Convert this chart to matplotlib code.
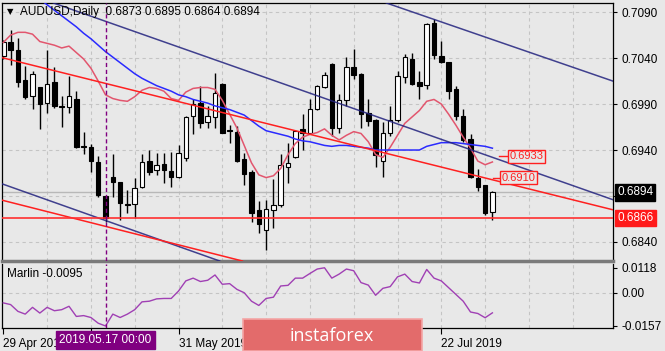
import matplotlib
matplotlib.use("Agg")
import matplotlib.pyplot as plt
from matplotlib.patches import Rectangle

# AUDUSD daily bars, 29 Apr 2019 .. 31 Jul 2019 (bar index 0..67)
opens = [0.7042, 0.7057, 0.7049, 0.7016, 0.6999, 0.7008, 0.6991, 0.7014, 0.6988, 0.6987,
         0.6996, 0.6944, 0.6943, 0.6927, 0.6890, 0.6911, 0.6905, 0.6881, 0.6881, 0.6900,
         0.6928, 0.6918, 0.6925, 0.6917, 0.6911, 0.6931, 0.6977, 0.6991, 0.6970, 0.6976,
         0.7012, 0.6962, 0.6960, 0.6930, 0.6916, 0.6875, 0.6853, 0.6875, 0.6880, 0.6922,
         0.6932, 0.6963, 0.6959, 0.6985, 0.7008, 0.7034, 0.6964, 0.6994, 0.7030, 0.7023,
         0.6980, 0.6973, 0.6928, 0.6959, 0.6973, 0.7019, 0.7039, 0.7014, 0.7011, 0.7078,
         0.7042, 0.7036, 0.7006, 0.6977, 0.6952, 0.6910, 0.6902, 0.6873]
highs = [0.7060, 0.7070, 0.7062, 0.7031, 0.7026, 0.7008, 0.7049, 0.7030, 0.6999, 0.7020,
         0.7004, 0.6960, 0.6947, 0.6934, 0.6890, 0.6936, 0.6905, 0.6897, 0.6910, 0.6936,
         0.6940, 0.6937, 0.6937, 0.6938, 0.6945, 0.6977, 0.6995, 0.7010, 0.6988, 0.7024,
         0.7013, 0.6967, 0.6966, 0.6937, 0.6918, 0.6885, 0.6886, 0.6908, 0.6936, 0.6948,
         0.6962, 0.6979, 0.6995, 0.7011, 0.7025, 0.7035, 0.7001, 0.7041, 0.7050, 0.7024,
         0.6995, 0.6974, 0.6971, 0.6988, 0.7026, 0.7044, 0.7046, 0.7026, 0.7078, 0.7083,
         0.7059, 0.7036, 0.7010, 0.6985, 0.6957, 0.6919, 0.6902, 0.6895]
lows = [0.7039, 0.7033, 0.7008, 0.6995, 0.6985, 0.6963, 0.6980, 0.6986, 0.6965, 0.6980,
        0.6942, 0.6936, 0.6916, 0.6889, 0.6862, 0.6889, 0.6864, 0.6872, 0.6866, 0.6899,
        0.6913, 0.6913, 0.6904, 0.6900, 0.6910, 0.6928, 0.6957, 0.6964, 0.6964, 0.6964,
        0.6958, 0.6948, 0.6927, 0.6902, 0.6862, 0.6850, 0.6831, 0.6855, 0.6878, 0.6904,
        0.6931, 0.6940, 0.6958, 0.6984, 0.7007, 0.6955, 0.6958, 0.6988, 0.7017, 0.6964,
        0.6966, 0.6922, 0.6911, 0.6955, 0.6971, 0.7013, 0.7011, 0.6996, 0.7006, 0.7039,
        0.7035, 0.6996, 0.6973, 0.6949, 0.6910, 0.6895, 0.6869, 0.6864]
closes = [0.7057, 0.7049, 0.7014, 0.6998, 0.7023, 0.6990, 0.7012, 0.6988, 0.6987, 0.6999,
          0.6943, 0.6943, 0.6928, 0.6891, 0.6866, 0.6905, 0.6882, 0.6880, 0.6899, 0.6927,
          0.6916, 0.6924, 0.6918, 0.6911, 0.6937, 0.6976, 0.6990, 0.6969, 0.6977, 0.7002,
          0.6959, 0.6961, 0.6928, 0.6914, 0.6871, 0.6859, 0.6876, 0.6880, 0.6924, 0.6926,
          0.6961, 0.6959, 0.6985, 0.7010, 0.7022, 0.6964, 0.6994, 0.7030, 0.7022, 0.6979,
          0.6972, 0.6935, 0.6959, 0.6973, 0.7020, 0.7041, 0.7012, 0.7010, 0.7077, 0.7043,
          0.7036, 0.7004, 0.6977, 0.6951, 0.6911, 0.6900, 0.6871, 0.6894]

# balance line (red) and Kruzenshtern line (blue)
balance = [0.7057, 0.7065, 0.7068, 0.7068, 0.7066, 0.7058, 0.7056, 0.7054, 0.7051, 0.7053,
           0.7046, 0.7039, 0.7029, 0.7015, 0.7000, 0.6996, 0.6994, 0.6993, 0.6998, 0.7005,
           0.7008, 0.7007, 0.7004, 0.6996, 0.6994, 0.7003, 0.7007, 0.7008, 0.7008, 0.7006,
           0.6994, 0.6979, 0.6964, 0.6945, 0.6926, 0.6913, 0.6910, 0.6912, 0.6920, 0.6935,
           0.6947, 0.6954, 0.6957, 0.6959, 0.6963, 0.6956, 0.6951, 0.6956, 0.6960, 0.6958,
           0.6949, 0.6935, 0.6932, 0.6943, 0.6956, 0.6969, 0.6976, 0.6983, 0.6993, 0.6995,
           0.6990, 0.6979, 0.6967, 0.6954, 0.6942, 0.6928, 0.6924, 0.6927]
kruz_start = 3
kruz = [0.7121, 0.7112, 0.7104, 0.7098, 0.7092, 0.7086, 0.7080, 0.7074, 0.7067, 0.7061,
        0.7054, 0.7047, 0.7041, 0.7035, 0.7029, 0.7023, 0.7018, 0.7014, 0.7010, 0.7007,
        0.7004, 0.7000, 0.6998, 0.6995, 0.6993, 0.6991, 0.6988, 0.6986, 0.6984, 0.6981,
        0.6978, 0.6972, 0.6966, 0.6961, 0.6959, 0.6957, 0.6955, 0.6952, 0.6950, 0.6949,
        0.6947, 0.6945, 0.6944, 0.6945, 0.6945, 0.6944, 0.6943, 0.6942, 0.6940, 0.6940,
        0.6940, 0.6940, 0.6940, 0.6940, 0.6940, 0.6944, 0.6946, 0.6948, 0.6948, 0.6948,
        0.6947, 0.6946, 0.6945, 0.6944, 0.6942]

# Marlin oscillator
marlin = [-0.0048, -0.0056, -0.0088, -0.0101, -0.0069, -0.0096, -0.0069, -0.0085, -0.0080, -0.0064,
          -0.0112, -0.0108, -0.0117, -0.0144, -0.0157, -0.0101, -0.0117, -0.0101, -0.0080, -0.0043,
          -0.0040, -0.0029, -0.0027, -0.0027, 0.0008, 0.0056, 0.0069, 0.0053, 0.0059, 0.0084,
          0.0040, 0.0043, 0.0016, 0.0000, -0.0040, -0.0060, -0.0027, -0.0021, 0.0032, 0.0035,
          0.0069, 0.0069, 0.0091, 0.0112, 0.0118, 0.0069, 0.0088, 0.0112, 0.0104, 0.0048,
          0.0036, -0.0012, 0.0021, 0.0029, 0.0075, 0.0088, 0.0053, 0.0046, 0.0110, 0.0069,
          0.0056, 0.0024, -0.0008, -0.0040, -0.0091, -0.0098, -0.0118, -0.0095]

# channel lines: two anchor points (bar index, price)
navy_lines = [((5.4, 0.7104), (83.5, 0.6886)),
              ((55.0, 0.7093), (83.5, 0.7015)),
              ((-0.45, 0.6904), (30.1, 0.6818))]
red_lines = [((-0.45, 0.7041), (83.5, 0.6875)),
             ((-0.45, 0.6886), (32.4, 0.6820))]
support = 0.6866
marked_bar = 14
marked_label = "2019.05.17 00:00"
callouts = [(69.3, 0.6933, 67.9), (68.3, 0.6910, 67.1)]

price_ticks = [0.6840, 0.6890, 0.6940, 0.6990, 0.7040, 0.7090]
price_labels = ["0.6840", "", "0.6940", "0.6990", "0.7040", "0.7090"]
date_ticks = [0, 12, 24, 36, 48, 60]
date_labels = ["29 Apr 2019", "", "31 May 2019", "", "", "22 Jul 2019"]
marlin_ticks = [-0.0157, 0.0, 0.0118]
marlin_labels = ["-0.0157", "0.00", "0.0118"]

BG = "#e8e8e8"
FONT = "Liberation Sans"
W, H = 665, 351

fig = plt.figure(figsize=(W / 100, H / 100), dpi=100, facecolor=BG)
ax = fig.add_axes([2 / W, 90 / H, 611 / W, 258 / H], facecolor=BG)
ax2 = fig.add_axes([2 / W, 23 / H, 611 / W, 64 / H], facecolor=BG)

xmin, xmax = -0.18, 83.52
n = len(closes)

# grid
for g in range(6, 84, 6):
    for a in (ax, ax2):
        a.axvline(g, color="#c4c4c4", lw=0.8, ls=(0, (3, 3)), zorder=0)
for p in price_ticks:
    ax.axhline(p, color="#c4c4c4", lw=0.8, ls=(0, (3, 3)), zorder=0)
ax2.axhline(0, color="#c4c4c4", lw=0.8, ls=(0, (3, 3)), zorder=0)

# bid line and support
ax.axhline(closes[-1], color="#b8b8b8", lw=1, zorder=1)
ax.axhline(support, color="#ff3030", lw=1.2, zorder=4)

# candles
for i in range(n):
    o, h, l, c = opens[i], highs[i], lows[i], closes[i]
    ax.vlines(i, l, h, color="black", lw=1, zorder=2)
    ax.bar(i, max(abs(c - o), 0.00002), bottom=min(o, c), width=0.62,
           color="white" if c > o else "black", edgecolor="black", lw=0.8, zorder=2.5)

# moving lines
ax.plot(range(n), balance, color="#e2566e", lw=1.1, zorder=3)
ax.plot(range(kruz_start, kruz_start + len(kruz)), kruz, color="#2a2aff", lw=1.1, zorder=3)

for p1, p2 in navy_lines:
    ax.axline(p1, p2, color="#22227e", lw=1.1, alpha=0.85, zorder=3)
for p1, p2 in red_lines:
    ax.axline(p1, p2, color="#ff2020", lw=1.1, zorder=3)

for xb, price, xs in callouts:
    ax.plot([xs, xb], [price, price], color="#ff2020", lw=1, zorder=5)
    ax.text(xb, price, f"{price:.4f}", color="#ff2020", fontsize=8, family=FONT,
            ha="left", va="center", zorder=6,
            bbox=dict(boxstyle="square,pad=0.15", fc=BG, ec="#ff2020", lw=1))

ax.axvline(marked_bar, color="#800080", lw=1, ls=(0, (3, 2)), zorder=4)
ax2.axvline(marked_bar, color="#800080", lw=1, ls=(0, (3, 2)), zorder=4)

ax.set_xlim(xmin, xmax)
ax.set_ylim(0.68193, 0.70999)

# axes styling
for a in (ax, ax2):
    for s in ("left", "right", "top", "bottom"):
        a.spines[s].set_color("black")
        a.spines[s].set_linewidth(0.9)
ax.spines["bottom"].set_color("#7a7a7a")
ax.spines["bottom"].set_linewidth(2.5)
ax2.spines["top"].set_visible(False)

ax.yaxis.tick_right()
ax.set_yticks(price_ticks)
ax.set_yticklabels(price_labels, family=FONT, fontsize=8.5)
ax.tick_params(axis="y", length=3, width=0.8, pad=3, direction="out")
ax.set_xticks([])

# right-hand price boxes
ytr = ax.get_yaxis_transform()
ax.text(1.0 + 4 / 611, closes[-1], f"{closes[-1]:.4f}", transform=ytr, color="white",
        fontsize=8.5, family=FONT, ha="left", va="center", zorder=10, clip_on=False,
        bbox=dict(boxstyle="square,pad=0.2", fc="black", ec="black"))
ax.text(1.0 + 4 / 611, support, f"{support:.4f}", transform=ytr, color="white",
        fontsize=8.5, family=FONT, ha="left", va="center", zorder=10, clip_on=False,
        bbox=dict(boxstyle="square,pad=0.2", fc="#ff1a1a", ec="#ff1a1a"))

# Marlin panel
ax2.plot(range(n), marlin, color="#a040b4", lw=1, zorder=3)
ax2.set_xlim(xmin, xmax)
ax2.set_ylim(-0.01666, 0.01358)
ax2.yaxis.tick_right()
ax2.set_yticks(marlin_ticks)
ax2.set_yticklabels(marlin_labels, family=FONT, fontsize=8.5)
ax2.tick_params(axis="y", length=3, width=0.8, pad=3, direction="out")
ax2.set_xticks(date_ticks)
ax2.set_xticklabels(date_labels, family=FONT, fontsize=8.5, ha="left")
ax2.tick_params(axis="x", length=4, width=0.8, pad=3, direction="out")
ax2.text(0.008, 0.84, f"Marlin {marlin[-1]:.4f}", transform=ax2.transAxes,
         family=FONT, fontsize=8.5, ha="left", va="center")

ax2.text(marked_bar, -0.19, marked_label, transform=ax2.get_xaxis_transform(),
         color="white", fontsize=8.5, family=FONT, ha="center", va="center",
         zorder=10, clip_on=False,
         bbox=dict(boxstyle="square,pad=0.25", fc="#800080", ec="#800080"))

# header
fig.text(10 / W, 1 - 12 / H, "\u25bc", fontsize=6, ha="center", va="center", color="black")
fig.text(20 / W, 1 - 12 / H,
         f"AUDUSD,Daily  {opens[-1]:.4f} {highs[-1]:.4f} {lows[-1]:.4f} {closes[-1]:.4f}",
         family=FONT, fontsize=8.5, ha="left", va="center", color="black")

# watermark logo
fig.add_artist(Rectangle((243 / W, 0), 179 / W, 32 / H, transform=fig.transFigure,
                         facecolor="#e36b6b", edgecolor="#f4a5a5", lw=1.2, zorder=20))
fig.text(332 / W, 1 - 336 / H, "instaforex", family="Open Sans", fontsize=13,
         color="white", ha="center", va="center", zorder=21)

fig.savefig("out.png", dpi=100, facecolor=BG)
